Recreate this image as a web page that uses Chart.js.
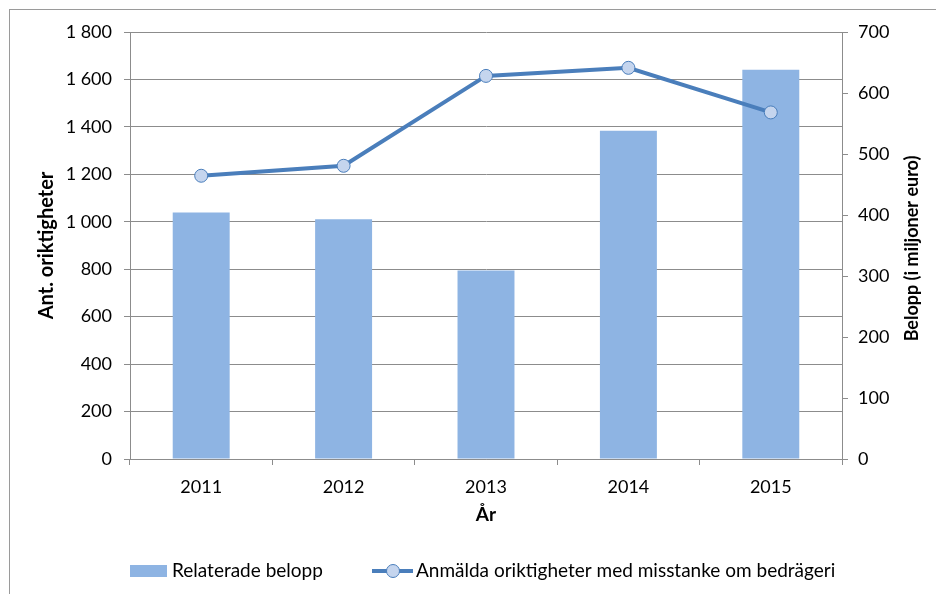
<!DOCTYPE html>
<html>
<head>
<meta charset="utf-8">
<script src="https://cdn.jsdelivr.net/npm/chart.js"></script>
<style>
  body { margin: 0; background: #fff; }
  #wrap { width: 936px; height: 594px; position: relative; }
</style>
</head>
<body>
<div id="wrap"><canvas id="myChart"></canvas></div>
<script>
const years = ['2011', '2012', '2013', '2014', '2015'];
const belopp = [404, 393, 309, 538, 638];
const oriktigheter = [1194, 1236, 1615, 1649, 1461];

const barColor = '#8eb4e3';
const lineColor = '#4a7ebb';
const pointFill = '#c5d5ee';
const gridColor = '#8c8c8c';
const fontFamily = 'Lato, "Liberation Sans", sans-serif';
const rightTitle = 'Belopp (i miljoner euro)';

function spaced(v) {
  return String(v).replace(/\B(?=(\d{3})+(?!\d))/g, ' ');
}

// outer frame, right axis title (reads bottom to top) and legend
const decorations = {
  id: 'decorations',
  beforeDraw(chart) {
    const ctx = chart.ctx;
    ctx.save();
    ctx.strokeStyle = '#9a9a9a';
    ctx.lineWidth = 1;
    ctx.strokeRect(9.5, 9.5, 1000, 1000);
    ctx.restore();
  },
  afterDraw(chart) {
    const ctx = chart.ctx;
    const area = chart.chartArea;
    const ds = chart.data.datasets;
    ctx.save();

    ctx.translate(912, (area.top + area.bottom) / 2 + 3);
    ctx.rotate(-Math.PI / 2);
    ctx.font = 'bold 18px ' + fontFamily;
    ctx.textAlign = 'center';
    ctx.textBaseline = 'middle';
    ctx.fillStyle = '#000';
    ctx.fillText(rightTitle, 0, 0);
    ctx.setTransform(1, 0, 0, 1, 0, 0);
    ctx.scale(chart.currentDevicePixelRatio, chart.currentDevicePixelRatio);

    const y = 571;
    ctx.font = '19px ' + fontFamily;
    ctx.textAlign = 'left';
    ctx.textBaseline = 'middle';

    ctx.fillStyle = barColor;
    ctx.fillRect(130, 565, 37, 12);
    ctx.fillStyle = '#000';
    ctx.fillText(ds[1].label, 172, y);

    ctx.strokeStyle = lineColor;
    ctx.lineWidth = 4;
    ctx.beginPath();
    ctx.moveTo(372, y);
    ctx.lineTo(413, y);
    ctx.stroke();
    ctx.beginPath();
    ctx.arc(393, y, 6.5, 0, Math.PI * 2);
    ctx.fillStyle = pointFill;
    ctx.fill();
    ctx.lineWidth = 1;
    ctx.stroke();
    ctx.fillStyle = '#000';
    ctx.fillText(ds[0].label, 416, y);
    ctx.restore();
  }
};

const config = {
  type: 'bar',
  data: {
    labels: years,
    datasets: [
      {
        type: 'line',
        label: 'Anmälda oriktigheter med misstanke om bedrägeri',
        data: oriktigheter,
        yAxisID: 'y',
        borderColor: lineColor,
        borderWidth: 4,
        tension: 0,
        pointRadius: 6.5,
        pointBorderWidth: 1,
        pointBorderColor: lineColor,
        pointBackgroundColor: pointFill,
        order: 0
      },
      {
        label: 'Relaterade belopp',
        data: belopp,
        yAxisID: 'y1',
        backgroundColor: barColor,
        barPercentage: 0.4,
        categoryPercentage: 1,
        order: 1
      }
    ]
  },
  options: {
    responsive: true,
    maintainAspectRatio: false,
    animation: false,
    layout: { padding: { left: 0, right: 0, top: 32, bottom: 60 } },
    plugins: {
      legend: { display: false },
      tooltip: { enabled: false }
    },
    scales: {
      x: {
        grid: { drawOnChartArea: false, offset: true, tickLength: 6, color: gridColor },
        border: { color: gridColor },
        ticks: { color: '#000', padding: 11, font: { family: fontFamily, size: 18 } },
        title: {
          display: true, text: 'År', color: '#000',
          font: { family: fontFamily, size: 19, weight: 'bold' },
          padding: { top: 0, bottom: 8 }
        },
        afterFit(scale) { scale.height = 75; }
      },
      y: {
        position: 'left',
        min: 0, max: 1800,
        ticks: {
          stepSize: 200, color: '#000', padding: 12,
          font: { family: fontFamily, size: 18 },
          callback: v => spaced(v)
        },
        grid: { color: gridColor, tickLength: 6 },
        border: { color: gridColor },
        title: {
          display: true, text: 'Ant. oriktigheter', color: '#000',
          font: { family: fontFamily, size: 20, weight: 'bold' },
          padding: { top: 35, bottom: 0 }
        },
        afterFit(scale) { scale.width = 130; }
      },
      y1: {
        position: 'right',
        min: 0, max: 700,
        ticks: {
          stepSize: 100, color: '#000', padding: 10,
          font: { family: fontFamily, size: 18 }
        },
        grid: { drawOnChartArea: false, color: gridColor, tickLength: 6 },
        border: { color: gridColor },
        afterFit(scale) { scale.width = 94; }
      }
    }
  },
  plugins: [decorations]
};

const myChart = new Chart(document.getElementById('myChart'), config);
</script>
</body>
</html>
